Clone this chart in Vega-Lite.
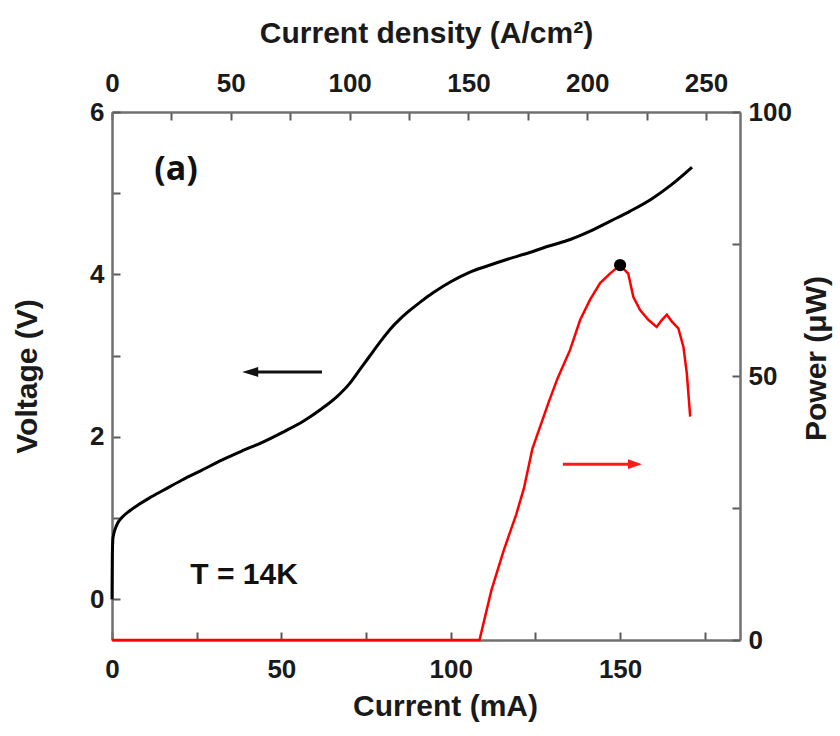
{
  "$schema": "https://vega.github.io/schema/vega-lite/v6.json",
  "width": 628,
  "height": 528,
  "autosize": {"type": "none"},
  "padding": {"left": 112, "top": 112, "right": 100, "bottom": 96},
  "background": "white",
  "config": {
    "font": "Liberation Sans",
    "view": {"stroke": null},
    "axis": {
      "grid": false,
      "ticks": true,
      "tickSize": -8,
      "labelFont": "Liberation Sans",
      "labelFontWeight": "bold",
      "labelFontSize": 26,
      "labelColor": "#1a1a1a",
      "labelFlush": false,
      "labelBound": false,
      "labelOverlap": false,
      "titleFont": "Liberation Sans",
      "titleFontWeight": "bold",
      "titleFontSize": 30,
      "titleColor": "#1a1a1a",
      "domainColor": "#707070",
      "domainWidth": 2.5,
      "tickColor": "#5a5a5a",
      "tickWidth": 2
    }
  },
  "datasets": {
    "iv": [
      {"current": 0, "voltage": 0},
      {"current": 0.05, "voltage": 0.3},
      {"current": 0.1, "voltage": 0.55},
      {"current": 0.3, "voltage": 0.76},
      {"current": 1.45, "voltage": 0.92},
      {"current": 3, "voltage": 1.01},
      {"current": 5.05, "voltage": 1.085},
      {"current": 8, "voltage": 1.17},
      {"current": 11.1, "voltage": 1.25},
      {"current": 15, "voltage": 1.34},
      {"current": 20.7, "voltage": 1.47},
      {"current": 26, "voltage": 1.58},
      {"current": 32.7, "voltage": 1.72},
      {"current": 38, "voltage": 1.82},
      {"current": 44.7, "voltage": 1.94},
      {"current": 50.5, "voltage": 2.06},
      {"current": 56.7, "voltage": 2.2},
      {"current": 62, "voltage": 2.35},
      {"current": 66.5, "voltage": 2.5},
      {"current": 70, "voltage": 2.65},
      {"current": 73, "voltage": 2.82},
      {"current": 76, "voltage": 2.99},
      {"current": 79, "voltage": 3.16},
      {"current": 82, "voltage": 3.32},
      {"current": 85, "voltage": 3.45},
      {"current": 88, "voltage": 3.56},
      {"current": 91, "voltage": 3.66},
      {"current": 95, "voltage": 3.78},
      {"current": 100, "voltage": 3.91},
      {"current": 105.2, "voltage": 4.02},
      {"current": 111.2, "voltage": 4.11},
      {"current": 117, "voltage": 4.19},
      {"current": 123.3, "voltage": 4.27},
      {"current": 129, "voltage": 4.35},
      {"current": 135.3, "voltage": 4.43},
      {"current": 141, "voltage": 4.53},
      {"current": 147.3, "voltage": 4.66},
      {"current": 153, "voltage": 4.78},
      {"current": 159.3, "voltage": 4.93},
      {"current": 165, "voltage": 5.1},
      {"current": 171.2, "voltage": 5.32}
    ],
    "pl": [
      {"current": 0, "power": 0},
      {"current": 108.5, "power": 0},
      {"current": 112, "power": 9.4},
      {"current": 115.6, "power": 16.9},
      {"current": 119.3, "power": 23.7},
      {"current": 121.6, "power": 28.7},
      {"current": 124.1, "power": 36.2},
      {"current": 128.9, "power": 45},
      {"current": 131.5, "power": 49.5},
      {"current": 135.2, "power": 54.9},
      {"current": 138.2, "power": 60.6},
      {"current": 141.1, "power": 64.4},
      {"current": 144.1, "power": 67.6},
      {"current": 147, "power": 69.4},
      {"current": 150, "power": 71},
      {"current": 152.4, "power": 69.4},
      {"current": 153.9, "power": 65},
      {"current": 155.9, "power": 62.5},
      {"current": 158.4, "power": 60.6},
      {"current": 160.8, "power": 59.3},
      {"current": 162.3, "power": 60.6},
      {"current": 163.8, "power": 61.6},
      {"current": 165.3, "power": 60.3},
      {"current": 167.2, "power": 59},
      {"current": 168.7, "power": 55.5},
      {"current": 169.7, "power": 50.5},
      {"current": 170.7, "power": 42.3}
    ],
    "peak": [{"current": 150, "power": 71}],
    "ivArrow": [{"current": 40.8, "current_end": 62, "voltage": 2.8}],
    "plArrow": [{"current": 154.4, "current_start": 133.1, "power": 33.3}],
    "panel": [{"current": 18.9, "voltage": 5.28, "label": "(a)"}],
    "temp": [{"current": 39, "voltage": 0.3, "label": "T = 14K"}],
    "densityRange": [{"density": 0}, {"density": 264.3}]
  },
  "layer": [
    {
      "encoding": {
        "x": {
          "field": "current",
          "type": "quantitative",
          "scale": {"domain": [0, 185.4], "nice": false, "zero": false},
          "axis": {
            "orient": "bottom",
            "title": "Current  (mA)",
            "titleX": 333,
            "values": [0, 25, 50, 75, 100, 125, 150, 175],
            "labelExpr": "datum.value % 50 === 0 ? datum.label : ''",
            "encode": {"ticks": {"update": {"y2": {"signal": "datum.value % 50 === 0 ? -8 : -5"}}}},
            "labelPadding": 24,
            "titlePadding": 9
          }
        },
        "y": {
          "field": "voltage",
          "type": "quantitative",
          "scale": {"domain": [-0.5, 6], "nice": false, "zero": false},
          "axis": {
            "orient": "left",
            "title": "Voltage  (V)",
            "values": [0, 1, 2, 3, 4, 5, 6],
            "labelExpr": "datum.value % 2 === 0 ? datum.label : ''",
            "encode": {"ticks": {"update": {"x2": {"signal": "datum.value % 2 === 0 ? 8 : 5"}}}},
            "labelPadding": 16,
            "titlePadding": 47
          }
        }
      },
      "layer": [
        {
          "data": {"name": "iv"},
          "mark": {"type": "line", "color": "#000000", "strokeWidth": 3, "interpolate": "monotone"}
        },
        {
          "data": {"name": "ivArrow"},
          "mark": {"type": "rule", "color": "#111111", "strokeWidth": 3},
          "encoding": {"x2": {"field": "current_end"}}
        },
        {
          "data": {"name": "ivArrow"},
          "mark": {"type": "point", "filled": true, "opacity": 1, "color": "#111111", "shape": "M -1,0 L 1,-0.62 L 1,0.62 Z", "size": 256}
        },
        {
          "data": {"name": "panel"},
          "mark": {"type": "text", "font": "Open Sans", "fontWeight": "bold", "fontSize": 34, "color": "#111111", "align": "center", "baseline": "middle"},
          "encoding": {"text": {"field": "label"}}
        },
        {
          "data": {"name": "temp"},
          "mark": {"type": "text", "font": "Liberation Sans", "fontWeight": "bold", "fontSize": 30, "color": "#111111", "align": "center", "baseline": "middle"},
          "encoding": {"text": {"field": "label"}}
        }
      ]
    },
    {
      "encoding": {
        "x": {
          "field": "current",
          "type": "quantitative",
          "scale": {"domain": [0, 185.4], "nice": false, "zero": false},
          "axis": null
        },
        "y": {
          "field": "power",
          "type": "quantitative",
          "scale": {"domain": [0, 100], "nice": false},
          "axis": {
            "orient": "right",
            "title": "Power   (μW)",
            "titleAngle": 270,
            "titleY": 246,
            "values": [0, 25, 50, 75, 100],
            "labelExpr": "datum.value % 50 === 0 ? datum.label : ''",
            "encode": {"ticks": {"update": {"x2": {"signal": "datum.value % 50 === 0 ? -8 : -5"}}}},
            "labelPadding": 16,
            "titlePadding": 40
          }
        }
      },
      "layer": [
        {
          "data": {"name": "pl"},
          "mark": {"type": "line", "color": "#ff0000", "strokeWidth": 2.5}
        },
        {
          "data": {"name": "peak"},
          "mark": {"type": "point", "filled": true, "opacity": 1, "color": "#000000", "shape": "circle", "size": 150}
        },
        {
          "data": {"name": "plArrow"},
          "mark": {"type": "rule", "color": "#ff1a1a", "strokeWidth": 3},
          "encoding": {"x2": {"field": "current_start"}}
        },
        {
          "data": {"name": "plArrow"},
          "mark": {"type": "point", "filled": true, "opacity": 1, "color": "#ff1a1a", "shape": "M 1,0 L -1,-0.7 L -1,0.7 Z", "size": 196}
        }
      ]
    },
    {
      "data": {"name": "densityRange"},
      "mark": {"type": "rule", "opacity": 0},
      "encoding": {
        "x": {
          "field": "density",
          "type": "quantitative",
          "scale": {"domain": [0, 264.3], "nice": false, "zero": false},
          "axis": {
            "orient": "top",
            "title": "Current density (A/cm²)",
            "values": [0, 25, 50, 75, 100, 125, 150, 175, 200, 225, 250],
            "labelExpr": "datum.value % 50 === 0 ? datum.label : ''",
            "encode": {"ticks": {"update": {"y2": {"signal": "datum.value % 50 === 0 ? 8 : 5"}}}},
            "labelPadding": 24,
            "titlePadding": 22
          }
        }
      }
    }
  ],
  "resolve": {"scale": {"x": "independent", "y": "independent"}}
}
